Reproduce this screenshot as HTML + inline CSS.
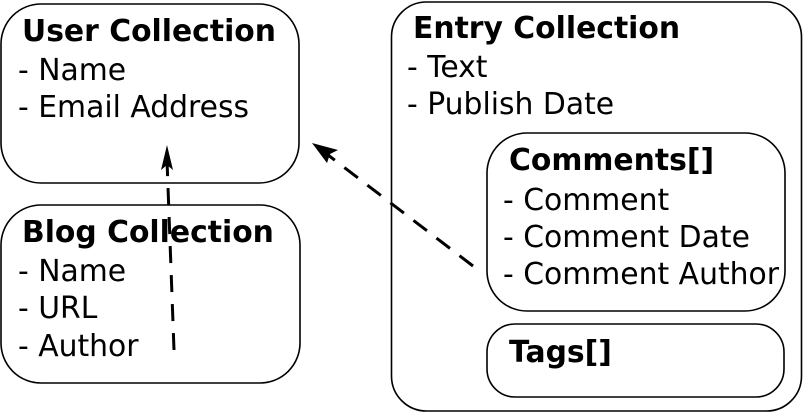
<!DOCTYPE html>
<html><head><style>body{margin:0;background:#fff}</style></head><body>
<svg width="803" height="413" xmlns="http://www.w3.org/2000/svg" font-family="DejaVu Sans, sans-serif" font-size="29.8">
<g fill="none" stroke="#000" stroke-width="1.6">
<rect x="1" y="4" width="298" height="179" rx="40"/>
<rect x="1" y="205" width="299" height="178" rx="40"/>
<rect x="391.5" y="2" width="410" height="409" rx="35"/>
<rect x="487" y="133" width="298" height="178" rx="40"/>
<rect x="487" y="324" width="297" height="73" rx="28"/>
</g>
<g stroke="#000" stroke-width="3" fill="none" stroke-dasharray="17,12">
<line x1="174" y1="350" x2="167" y2="160"/>
<line x1="473" y1="266" x2="328" y2="155"/>
</g>
<path d="M167 145 L173 170 L167 165 L161 170 Z" fill="#000"/>
<path d="M312 143 L338 150 L330 154 L327 163 Z" fill="#000"/>
<g fill="#000">
<text x="22" y="41" font-weight="bold">User Collection</text>
<text x="18" y="80">- Name</text>
<text x="18" y="117">- Email Address</text>
<text x="22" y="242" font-weight="bold">Blog Collection</text>
<text x="18" y="281">- Name</text>
<text x="18" y="318">- URL</text>
<text x="18" y="356">- Author</text>
<text x="413" y="38" font-weight="bold">Entry Collection</text>
<text x="407" y="77">- Text</text>
<text x="407" y="114">- Publish Date</text>
<text x="509" y="170" font-weight="bold">Comments[]</text>
<text x="503" y="210">- Comment</text>
<text x="503" y="247">- Comment Date</text>
<text x="503" y="284">- Comment Author</text>
<text x="509" y="362" font-weight="bold">Tags[]</text>
</g>
</svg>
</body></html>
